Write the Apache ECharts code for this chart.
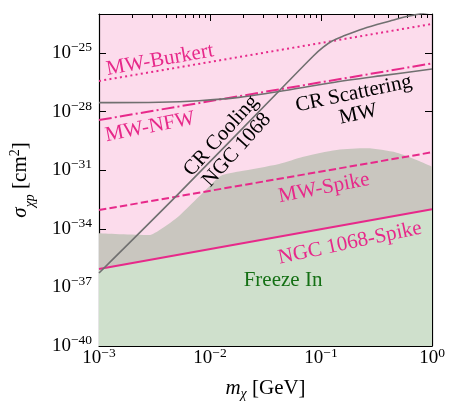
<!DOCTYPE html>
<html><head><meta charset="utf-8">
<script src="https://cdn.jsdelivr.net/npm/echarts@6/dist/echarts.min.js"></script>
<style>html,body{margin:0;padding:0;background:#fff}#c{width:461px;height:415px}</style>
</head><body><div id="c"></div>
<script>
// All values are log10: mass in GeV, cross section in cm^2
const xMajorTicks = [-3, -2, -1, 0];
const yMajorTicks = [-40, -37, -34, -31, -28, -25];
const lineMassEnds = [-3, 0];
const mwBurkert = [-26.43, -23.51];
const mwNFW = [-28.43, -25.53];
const mwSpike = [-33.04, -30.08];
const ngcSpike = [-36.06, -33.0];
const crScatMass = [-3, -2.459, -2.099, -1.739, -1.378, -0.919, -0.468, 0];
const crScatSigma = [-27.54, -27.52, -27.44, -27.27, -26.97, -26.53, -26.17, -25.82];
const crCoolMass = [-3, -2.309, -1.369, -1.069, -0.98, -0.9, -0.80, -0.619, -0.378, -0.228, 0];
const crCoolSigma = [-36.26, -32.35, -26.89, -25.15, -24.70, -24.38, -24.13, -23.75, -23.36, -23.13, -22.88];
const excludedMass = [-3, -2.55, -2.444, -2.279, -2.099, -2.009, -1.904, -1.739, -1.378, -1.159, -0.859, -0.589, -0.318, -0.138, 0];
const excludedSigma = [-34.23, -34.32, -34.02, -33.34, -32.35, -31.84, -31.29, -31.07, -30.68, -30.31, -29.96, -29.88, -30.10, -30.48, -30.82];

const PINK = '#e7298a', GREYLINE = '#707070';
const FONT = 'Liberation Serif';
const annotations = [
  {text: 'MW-Burkert', x: -2.45, y: -25.36, rot: 10, color: PINK},
  {text: 'MW-NFW', x: -2.54, y: -28.79, rot: 11, color: PINK},
  {text: 'CR Cooling\nNGC 1068', x: -1.829, y: -29.6, rot: 48, color: '#000'},
  {text: 'CR Scattering\nMW', x: -0.685, y: -27.61, rot: 12, color: '#000'},
  {text: 'MW-Spike', x: -0.973, y: -31.91, rot: 11, color: PINK},
  {text: 'NGC 1068-Spike', x: -0.739, y: -34.73, rot: 12, color: PINK},
  {text: 'Freeze In', x: -1.342, y: -36.62, rot: 0, color: '#157015'}
];

const zip = (a, b) => a.map((v, i) => [v, b[i]]);
const xMinorTicks = [];
for (let n = -3; n < 0; n++) for (let k = 2; k <= 9; k++) xMinorTicks.push(n + Math.log10(k));

const tickRich = {
  b: {fontFamily: FONT, fontSize: 19, lineHeight: 19, color: '#000', verticalAlign: 'bottom'},
  s: {fontFamily: FONT, fontSize: 13.5, lineHeight: 14, color: '#000', verticalAlign: 'bottom', padding: [0, 0, 8, 0]}
};
const powFmt = v => '{b|10}{s|' + (v < 0 ? '\u2212' : '') + Math.abs(Math.round(v)) + '}';

function xAxis(pos, ticks, len, labels, line) {
  return {
    type: 'value', min: -3, max: 0, position: pos, gridIndex: 0,
    axisLine: {show: line, onZero: false, lineStyle: {color: '#000', width: 1.2}},
    axisTick: {show: true, inside: true, length: len, customValues: ticks, lineStyle: {color: '#000', width: 1}},
    axisLabel: labels ? {show: true, customValues: xMajorTicks, formatter: powFmt, rich: tickRich, margin: 3} : {show: false},
    splitLine: {show: false}
  };
}
function yAxis(pos, labels) {
  return {
    type: 'value', min: -40, max: -23, position: pos, gridIndex: 0,
    axisLine: {show: true, onZero: false, lineStyle: {color: '#000', width: 1.2}},
    axisTick: {show: true, inside: true, length: 7, customValues: yMajorTicks, lineStyle: {color: '#000', width: 1}},
    axisLabel: labels ? {show: true, customValues: yMajorTicks, formatter: powFmt, rich: tickRich, margin: 7} : {show: false},
    splitLine: {show: false}
  };
}

const xs = [
  xAxis('bottom', xMajorTicks, 7, true, true),
  xAxis('bottom', xMinorTicks, 4, false, false),
  xAxis('top', xMajorTicks, 7, false, true),
  xAxis('top', xMinorTicks, 4, false, false)
];
xs[0].name = '{i|m}{sub|\u03c7}{n|\u00a0[GeV]}';
xs[0].nameLocation = 'middle';
xs[0].nameGap = 32;
xs[0].nameTextStyle = {rich: {
  i: {fontFamily: FONT, fontStyle: 'italic', fontSize: 21, color: '#000', verticalAlign: 'top', lineHeight: 21},
  sub: {fontFamily: FONT, fontStyle: 'italic', fontSize: 14, color: '#000', verticalAlign: 'top', lineHeight: 14, padding: [9, 0, 0, 0]},
  n: {fontFamily: FONT, fontSize: 21, color: '#000', verticalAlign: 'top', lineHeight: 21}
}};
const ys = [yAxis('left', true), yAxis('right', false)];
ys[0].name = '{i|\u03c3}{sub|\u03c7p}{n|\u00a0[cm}{sup|2}{n|]}';
ys[0].nameLocation = 'middle';
ys[0].nameRotate = 90;
ys[0].nameGap = 62;
ys[0].nameTextStyle = {rich: {
  i: {fontFamily: FONT, fontStyle: 'italic', fontSize: 21, color: '#000', verticalAlign: 'bottom', lineHeight: 21, padding: [0, 0, 6, 0]},
  sub: {fontFamily: FONT, fontStyle: 'italic', fontSize: 14, color: '#000', verticalAlign: 'bottom', lineHeight: 14, padding: [0, 0, 0, 0]},
  n: {fontFamily: FONT, fontSize: 21, color: '#000', verticalAlign: 'bottom', lineHeight: 21, padding: [0, 0, 6, 0]},
  sup: {fontFamily: FONT, fontSize: 14, color: '#000', verticalAlign: 'bottom', lineHeight: 14, padding: [0, 0, 15, 0]}
}};

const lineSeries = (data, color, width, type, extra) => Object.assign({
  type: 'line', data, symbol: 'none', silent: true, animation: false,
  lineStyle: {color, width, type}, emphasis: {disabled: true}
}, extra || {});

const chart = echarts.init(document.getElementById('c'), null, {renderer: 'canvas'});
chart.setOption({
  animation: false,
  grid: {left: 99, right: 29, top: 14, bottom: 69, show: true, backgroundColor: '#fcdcec', borderWidth: 0, outerBoundsMode: 'none'},
  xAxis: xs,
  yAxis: ys,
  series: [
    lineSeries(zip(excludedMass, excludedSigma), '#c9c6bf', 0, 'solid', {smooth: 0.25, z: 1, areaStyle: {color: '#c9c6bf', origin: 'start', opacity: 1}}),
    lineSeries(zip(lineMassEnds, ngcSpike), PINK, 2, 'solid', {z: 2, areaStyle: {color: '#cfe0cc', origin: 'start', opacity: 1}}),
    lineSeries(zip(lineMassEnds, mwSpike), PINK, 2, [7.4, 3.2], {z: 3}),
    lineSeries(zip(lineMassEnds, mwNFW), PINK, 2, [12.8, 3.2, 2, 3.2], {z: 3}),
    lineSeries(zip(lineMassEnds, mwBurkert), PINK, 2, [2, 3.3], {z: 3}),
    lineSeries(zip(crScatMass, crScatSigma), GREYLINE, 1.6, 'solid', {z: 4, smooth: 0.3}),
    lineSeries(zip(crCoolMass, crCoolSigma), GREYLINE, 1.6, 'solid', {z: 4, smooth: 0.3}),
    {
      type: 'scatter', symbolSize: 1, silent: true, z: 10, itemStyle: {color: 'rgba(0,0,0,0)', opacity: 1},
      emphasis: {disabled: true},
      label: {show: true, position: 'inside', fontFamily: FONT, fontSize: 21, lineHeight: 21, align: 'center', verticalAlign: 'middle', opacity: 1},
      data: annotations.map(a => ({value: [a.x, a.y], label: {formatter: a.text, rotate: a.rot, color: a.color}}))
    }
  ]
});
</script></body></html>
